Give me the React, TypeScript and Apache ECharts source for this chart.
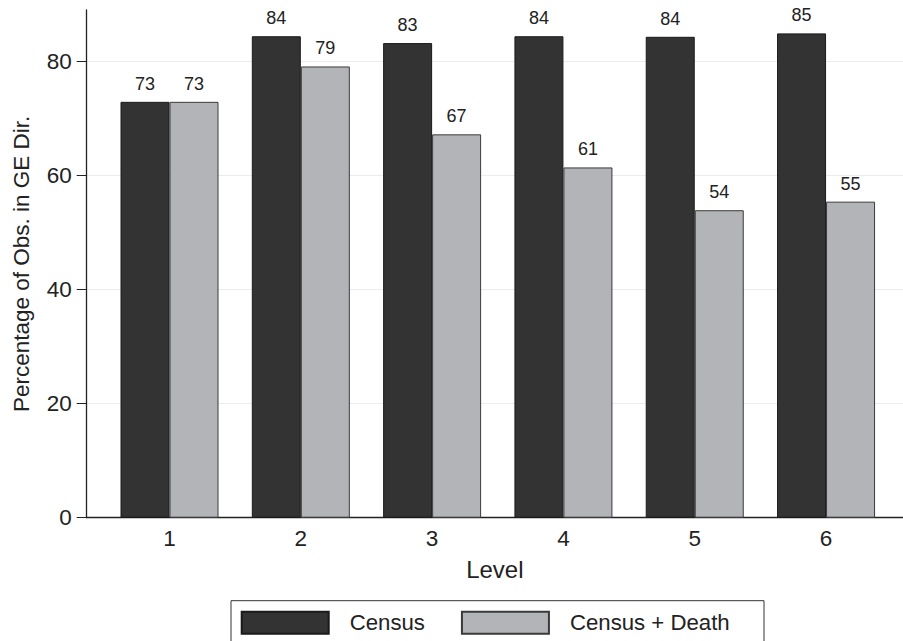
import React, { useEffect, useRef } from "react";
import * as echarts from "echarts";

const levels = [1, 2, 3, 4, 5, 6];
const census = [72.9, 84.4, 83.2, 84.4, 84.3, 84.9];
const censusDeath = [72.9, 79.1, 67.2, 61.4, 53.9, 55.4];
const yTicks = [0, 20, 40, 60, 80];
const seriesNames = ["Census", "Census + Death"];

const FONT = "'Liberation Sans', Arial, Helvetica, sans-serif";

export default function App() {
  const ref = useRef<HTMLDivElement>(null);
  useEffect(() => {
    if (!ref.current) return;
    const chart = echarts.init(ref.current, null, { renderer: "svg" });
    const labelCfg = {
      show: true,
      position: "top" as const,
      distance: 9,
      fontSize: 18,
      color: "#222",
      fontFamily: FONT,
      formatter: (p: any) => String(Math.round(p.value[1])),
    };
    chart.setOption({
      animation: false,
      backgroundColor: "#ffffff",
      textStyle: { fontFamily: FONT },
      grid: { left: 86.7, right: 0, top: 10, bottom: 123.3, containLabel: false },
      xAxis: {
        type: "value",
        min: 0.3694,
        max: 6.586,
        name: "Level",
        nameLocation: "middle",
        nameGap: 40,
        nameTextStyle: { fontSize: 24, color: "#222", fontFamily: FONT },
        axisLine: { show: true, lineStyle: { color: "#222", width: 1.3 } },
        axisTick: { show: false, customValues: levels },
        splitLine: { show: false },
        axisLabel: {
          customValues: levels,
          fontSize: 22.5,
          color: "#222",
          margin: 9,
          fontFamily: FONT,
        },
      },
      yAxis: {
        type: "value",
        min: 0,
        max: 89,
        name: "Percentage of Obs. in GE Dir.",
        nameLocation: "middle",
        nameGap: 54,
        nameTextStyle: { fontSize: 22.5, color: "#222", fontFamily: FONT },
        axisLine: { show: true, lineStyle: { color: "#222", width: 1.3 } },
        axisTick: { show: true, length: 10, customValues: yTicks, lineStyle: { color: "#222" } },
        axisLabel: {
          customValues: yTicks,
          fontSize: 22.5,
          color: "#222",
          margin: 15,
          fontFamily: FONT,
        },
        splitLine: { show: true, lineStyle: { color: "#ececec", width: 1 } },
      },
      legend: {
        left: 240.7,
        top: 610.7,
        padding: 0,
        itemWidth: 87,
        itemHeight: 22,
        itemGap: 36,
        icon: "rect",
        textStyle: { fontSize: 22.2, color: "#222", fontFamily: FONT, padding: [0, 0, 0, 16] },
        data: seriesNames,
      },
      graphic: [
        {
          type: "rect",
          shape: { x: 231, y: 600.7, width: 533, height: 60 },
          style: { fill: "none", stroke: "#333", lineWidth: 1 },
          silent: true,
        },
      ],
      series: [
        {
          name: seriesNames[0],
          type: "bar",
          barWidth: 49,
          barGap: "0%",
          data: levels.map((l, i) => [l, census[i]]),
          itemStyle: { color: "#333333", borderColor: "#1a1a1a", borderWidth: 1 },
          label: labelCfg,
        },
        {
          name: seriesNames[1],
          type: "bar",
          barWidth: 49,
          barGap: "0%",
          data: levels.map((l, i) => [l, censusDeath[i]]),
          itemStyle: { color: "#b3b4b8", borderColor: "#3a3a3a", borderWidth: 1 },
          label: labelCfg,
        },
      ],
    });
    return () => chart.dispose();
  }, []);
  return (
    <div
      ref={ref}
      style={{ position: "fixed", left: 0, top: 0, width: 903, height: 641 }}
    />
  );
}
